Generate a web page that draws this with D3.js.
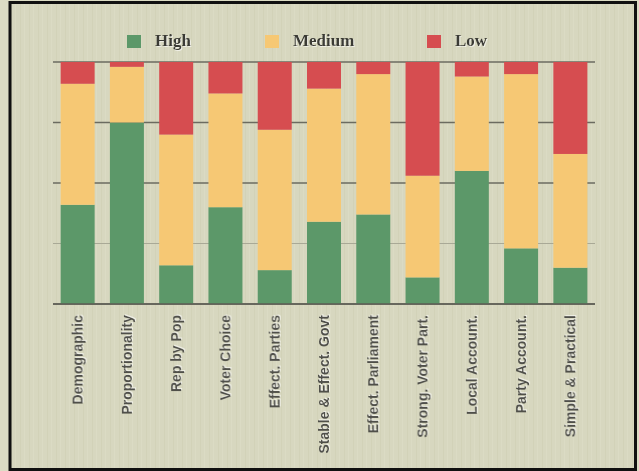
<!DOCTYPE html>
<html><head><meta charset="utf-8">
<script src="https://cdn.jsdelivr.net/npm/d3@7"></script>
<style>body{margin:0;background:#dcdcc4;}svg{display:block;}</style>
</head><body>
<script>
const categories = ["Demographic","Proportionality","Rep by Pop","Voter Choice","Effect. Parties","Stable & Effect. Govt","Effect. Parliament","Strong. Voter Part.","Local Account.","Party Account.","Simple & Practical"];
const high   = [41, 75, 16, 40, 14, 34, 37, 11, 55, 23, 15];
const medium = [50, 23, 54, 47, 58, 55, 58, 42, 39, 72, 47];
const low    = [9, 2, 30, 13, 28, 11, 5, 47, 6, 5, 38];
const seriesNames = ["High","Medium","Low"];
const colors = ["#5c9869","#f6c874","#d64d50"];
const yTicks = [0,25,50,75,100];

const W = 639, H = 471;
const svg = d3.select("body").append("svg").attr("width", W).attr("height", H);
const defs = svg.append("defs");
const pat = defs.append("pattern").attr("id","tex").attr("patternUnits","userSpaceOnUse").attr("width",9).attr("height",40);
pat.append("rect").attr("width",9).attr("height",40).attr("fill","#d7d7bf");
pat.append("rect").attr("x",2).attr("width",1).attr("height",40).attr("fill","#d2d2b8");
pat.append("rect").attr("x",6).attr("width",1).attr("height",40).attr("fill","#dbdbc4");
const sh = defs.append("filter").attr("id","shadow").attr("x","-10%").attr("y","-10%").attr("width","130%").attr("height","130%");
sh.append("feDropShadow").attr("dx",1).attr("dy",1).attr("stdDeviation",0.4).attr("flood-color","#ffffff").attr("flood-opacity",0.6);

svg.append("rect").attr("x",10).attr("y",2.5).attr("width",625.5).attr("height",467)
  .attr("fill","url(#tex)").attr("stroke","#111").attr("stroke-width",3);

const margin = {left:53, right:44, top:62, bottom:167};
const x = d3.scaleBand().domain(categories).range([margin.left, W - margin.right]).paddingInner(0.31).paddingOuter(0.155);
const y = d3.scaleLinear().domain([0,100]).range([H - margin.bottom, margin.top]);

// gridlines
svg.append("g").selectAll("line").data(yTicks).join("line")
  .attr("x1", margin.left).attr("x2", W - margin.right)
  .attr("y1", d => y(d)).attr("y2", d => y(d))
  .attr("stroke", d => d === 25 ? "#a9a996" : "#6b6b60")
  .attr("stroke-width", d => d === 25 ? 1 : 1.6);

const table = categories.map((c,i) => ({cat:c, High:high[i], Medium:medium[i], Low:low[i]}));
const stacked = d3.stack().keys(seriesNames)(table);

svg.append("g").selectAll("g").data(stacked).join("g")
  .attr("fill", (d,i) => colors[i])
  .selectAll("rect").data(d => d).join("rect")
  .attr("x", d => x(d.data.cat))
  .attr("width", x.bandwidth())
  .attr("y", d => y(d[1]))
  .attr("height", d => y(d[0]) - y(d[1]));

// x axis line
svg.append("line").attr("x1", margin.left).attr("x2", W - margin.right)
  .attr("y1", y(0)).attr("y2", y(0)).attr("stroke","#5d5d55").attr("stroke-width",1.6);

// category labels
const xAxis = d3.axisBottom(x).tickSize(0).tickPadding(0);
const gx = svg.append("g").attr("transform", `translate(0,${y(0)})`).call(xAxis);
gx.select(".domain").remove();
gx.selectAll("text")
  .attr("transform","rotate(-90)")
  .attr("x",-11).attr("y",0).attr("dy","0.35em")
  .attr("text-anchor","end")
  .attr("font-family","'Liberation Sans', Arial, sans-serif")
  .attr("font-weight","bold").attr("font-size",14)
  .attr("fill","#50504a").attr("filter","url(#shadow)");

// legend
const legendX = [127, 265, 427];
const lg = svg.append("g").selectAll("g").data(seriesNames).join("g")
  .attr("transform",(d,i)=>`translate(${legendX[i]},35)`);
lg.append("rect").attr("width",14).attr("height",13).attr("fill",(d,i)=>colors[i]);
lg.append("text").attr("x",28).attr("y",11)
  .attr("font-family","'Liberation Serif', 'Times New Roman', serif")
  .attr("font-weight","bold").attr("font-size",17).attr("fill","#3a3a34")
  .attr("filter","url(#shadow)")
  .text(d=>d);
</script>
</body></html>
